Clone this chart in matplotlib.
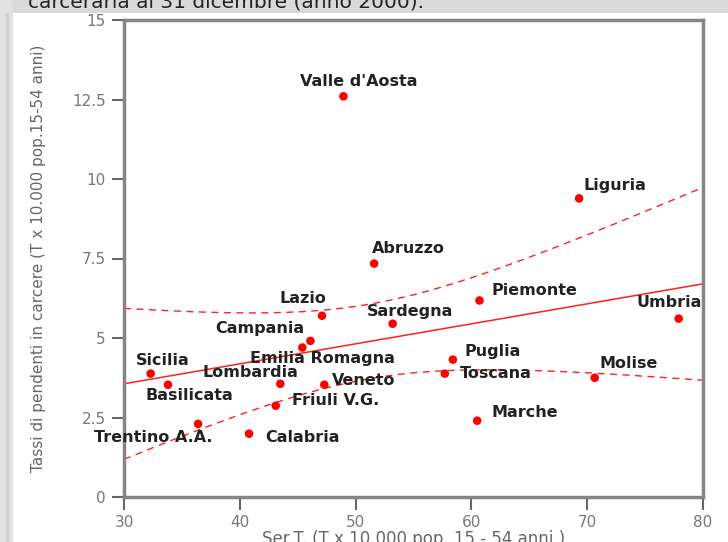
import matplotlib.pyplot as plt
import numpy as np
from matplotlib.patches import Rectangle

# regioni, Ser.T. (x) e tassi di pendenti in carcere (y)
regioni = ["Valle d'Aosta", "Liguria", "Abruzzo", "Piemonte", "Lazio", "Sardegna",
           "Umbria", "Campania", "Emilia Romagna", "Puglia", "Toscana", "Molise",
           "Marche", "Sicilia", "Basilicata", "Lombardia", "Veneto", "Friuli V.G.",
           "Trentino A.A.", "Calabria"]
sert = [48.95, 69.3, 51.6, 60.7, 47.1, 53.2, 77.9, 46.1, 45.4, 58.4, 57.7, 70.65,
        60.5, 32.3, 33.8, 43.5, 47.3, 43.1, 36.4, 40.8]
pendenti = [12.6, 9.39, 7.34, 6.18, 5.70, 5.45, 5.61, 4.91, 4.70, 4.32, 3.88, 3.75,
            2.40, 3.88, 3.53, 3.56, 3.53, 2.87, 2.30, 1.99]

xticks = [30, 40, 50, 60, 70, 80]
yticks = [0, 2.5, 5, 7.5, 10, 12.5, 15]
ytick_labels = ["0", "2.5", "5", "7.5", "10", "12.5", "15"]

# posizione delle etichette (pixel) rispetto al punto + allineamento
offsets = {"Valle d'Aosta": (15, 15, "center"), "Liguria": (4, 13, "left"),
           "Abruzzo": (-2, 15, "left"), "Piemonte": (12, 10, "left"),
           "Umbria": (23, 16, "right"), "Puglia": (12, 8, "left"),
           "Toscana": (15, 0, "left"), "Molise": (5, 14, "left"),
           "Marche": (14, 8, "left"), "Lazio": (4, 17, "right"),
           "Sardegna": (-26, 12, "left"), "Campania": (-6, 12, "right"),
           "Emilia Romagna": (20, -11, "center"), "Sicilia": (12, 13, "center"),
           "Lombardia": (-30, 11, "center"), "Veneto": (8, 4, "left"),
           "Basilicata": (21, -11, "center"), "Friuli V.G.": (16, 5, "left"),
           "Trentino A.A.": (-45, -14, "center"), "Calabria": (16, -4, "left")}

T_CRIT = 2.101  # t di Student, 18 gdl, 95%

x = np.array(sert)
y = np.array(pendenti)
n = len(x)
b, a = np.polyfit(x, y, 1)
res = y - (a + b * x)
s = np.sqrt(np.sum(res ** 2) / (n - 2))
sxx = np.sum((x - x.mean()) ** 2)
xx = np.linspace(30, 80, 200)
yy = a + b * xx
half = T_CRIT * s * np.sqrt(1.0 / n + (xx - x.mean()) ** 2 / sxx)

fig = plt.figure(figsize=(7.28, 5.42), dpi=100)
fig.patch.set_facecolor("white")
W, H = 728.0, 542.0
# bande grigie della pagina
fig.patches.append(Rectangle((0, 1 - 13 / H), 1, 13 / H, transform=fig.transFigure,
                             facecolor="#d9d9d9", edgecolor="none", zorder=0))
fig.patches.append(Rectangle((0, 0), 13 / W, 1, transform=fig.transFigure,
                             facecolor="#e2e2e2", edgecolor="none", zorder=0))
fig.patches.append(Rectangle((6 / W, 0), 3 / W, 1 - 13 / H, transform=fig.transFigure,
                             facecolor="#d0d0d0", edgecolor="none", zorder=0))
fig.text(28 / W, 1 - 7 / H, "carceraria al 31 dicembre (anno 2000).", fontsize=14.5,
         color="#222222", ha="left", va="baseline")

ax = fig.add_axes([124 / W, 45 / H, 579 / W, 477 / H])
ax.plot(xx, yy, color="#ff2020", lw=1.1, zorder=2)
ax.plot(xx, yy + half, color="#ff2020", lw=1.0, ls=(0, (5, 4)), zorder=2)
ax.plot(xx, yy - half, color="#ff2020", lw=1.0, ls=(0, (5, 4)), zorder=2)
ax.scatter(x, y, s=38, color="#ff0000", edgecolors="none", zorder=3)

for nome, xi, yi in zip(regioni, sert, pendenti):
    dx, dy, ha = offsets[nome]
    ax.annotate(nome, (xi, yi), xytext=(dx, dy), textcoords="offset pixels",
                ha=ha, va="center", fontsize=11.5, fontweight="bold",
                color="#222222", zorder=4)

ax.set_xlim(30, 80)
ax.set_ylim(0, 15)
ax.set_xticks(xticks)
ax.set_yticks(yticks)
ax.set_yticklabels(ytick_labels)
for sp in ax.spines.values():
    sp.set_color("#858585")
    sp.set_linewidth(2.5)
ax.tick_params(direction="out", length=9, width=1.5, color="#666666",
               labelcolor="#777777", labelsize=11, pad=4)
ax.set_xlabel("Ser.T. (T x 10.000 pop. 15 - 54 anni )", fontsize=12, color="#666666",
              labelpad=0)
ax.set_ylabel("Tassi di pendenti in carcere (T x 10.000 pop.15-54 anni)", fontsize=11,
              color="#666666", labelpad=19)

plt.savefig("out.png", dpi=100)
